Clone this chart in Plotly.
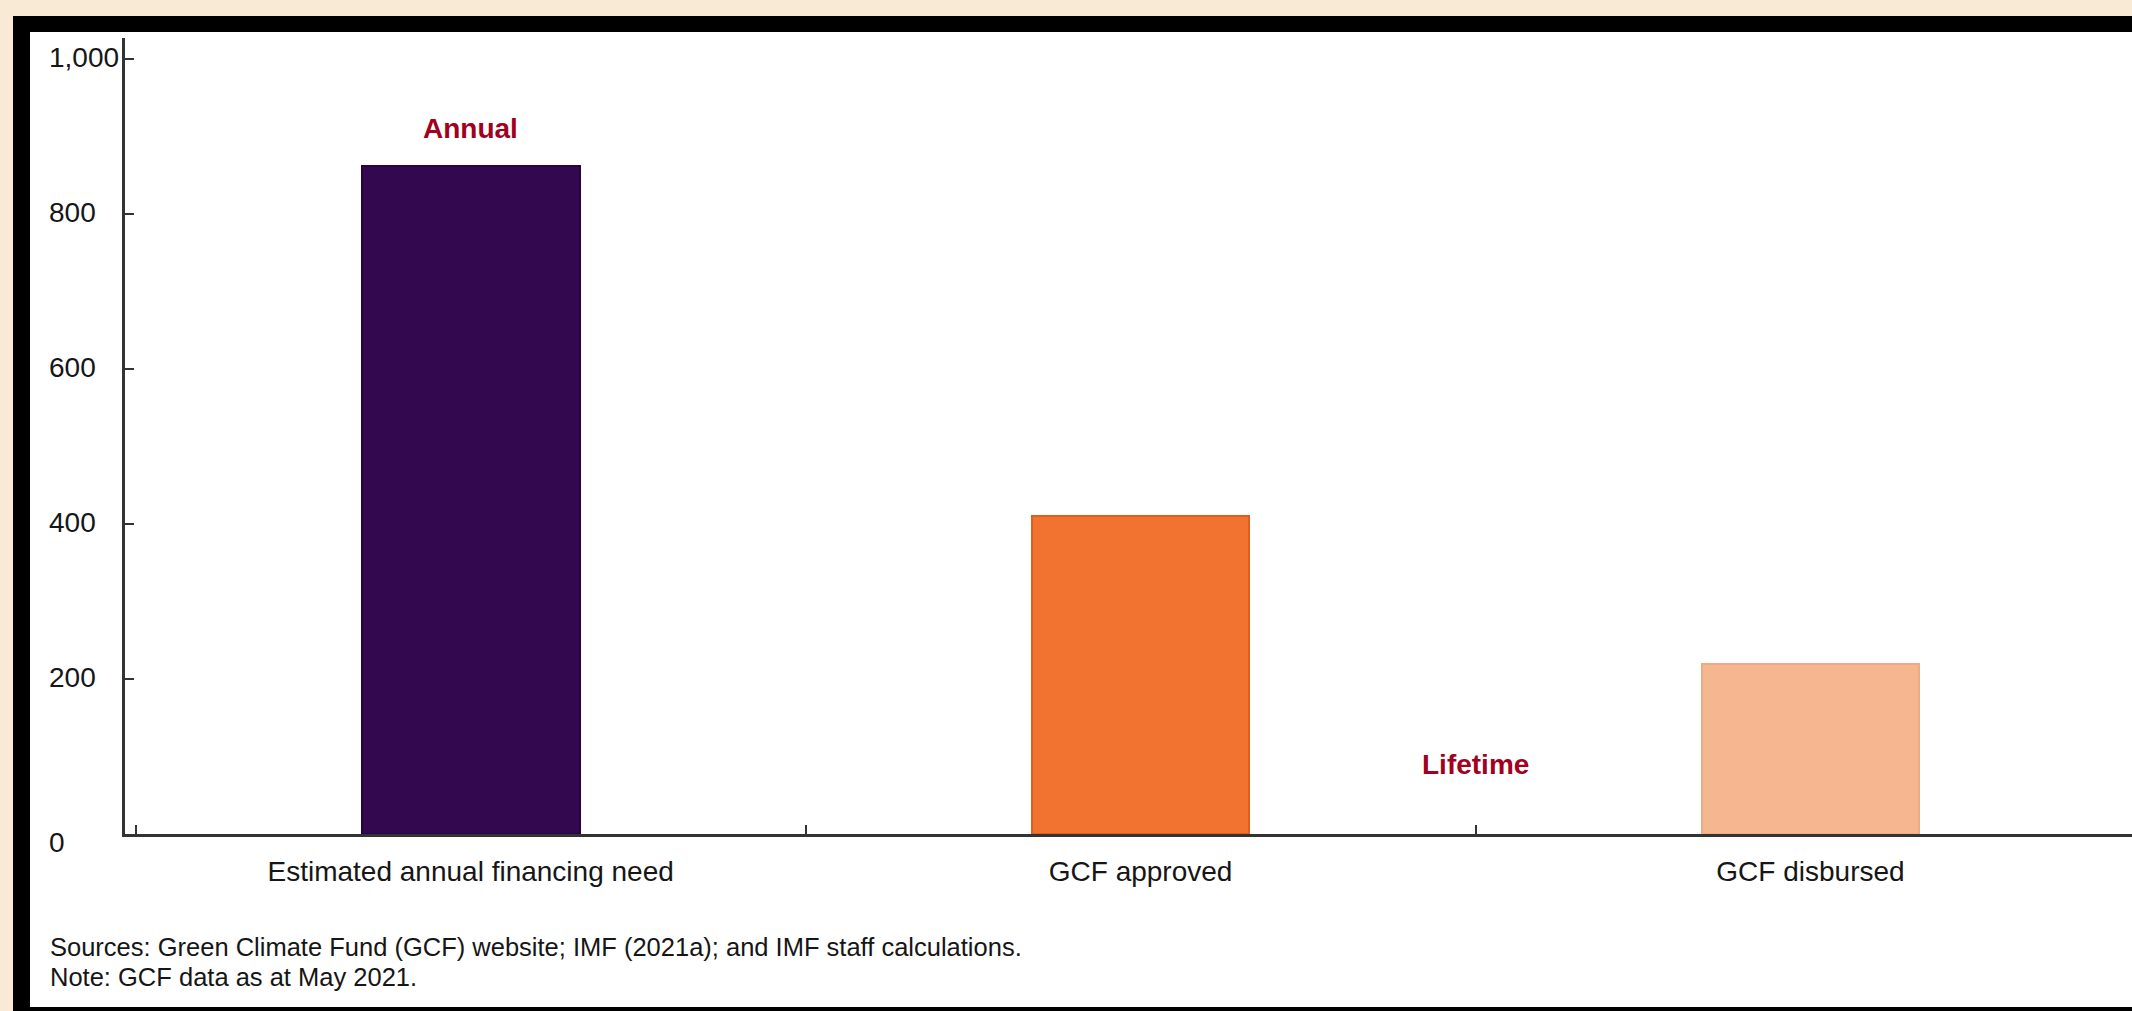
import plotly.graph_objects as go

# ---- data ----
categories = ["Estimated annual financing need", "GCF approved", "GCF disbursed"]
values = [862, 410, 219]
bar_colors = ["#33084F", "#F2722F", "#F5B690"]
bar_edges = ["#27043F", "#DE5E1E", "#EEAA82"]
y_ticks = [0, 200, 400, 600, 800, 1000]
y_tick_labels = ["0", "200", "400", "600", "800", "1,000"]
group_labels = ["Annual", "Lifetime"]
group_label_pos = [(0, 910), (1.5, 90)]   # (x category position, y value)
notes = [
    "Sources: Green Climate Fund (GCF) website; IMF (2021a); and IMF staff calculations.",
    "Note: GCF data as at May 2021.",
]

W, H = 2132, 1011
L, R, T, B = 125, 0, 38, 177
PW, PH = W - L - R, H - T - B


def px(p):
    return (p - L) / PW


def py(q):
    return (H - B - q) / PH


FONT = "Liberation Sans, Arial, Helvetica, sans-serif"
RED = "#A3001E"
TXT = "#161616"

fig = go.Figure()
fig.add_trace(go.Bar(
    x=categories, y=values, width=0.325,
    marker=dict(color=bar_colors, line=dict(color=bar_edges, width=2)),
    hoverinfo="skip", showlegend=False,
))

shapes = [
    dict(type="rect", xref="paper", yref="paper", layer="below",
         x0=px(13), x1=px(W + 20), y0=py(H + 20), y1=py(16),
         fillcolor="#000000", line=dict(width=0)),
    dict(type="rect", xref="paper", yref="paper", layer="below",
         x0=px(30), x1=px(W + 20), y0=py(1007), y1=py(32),
         fillcolor="#FFFFFF", line=dict(width=0)),
]

annotations = []
for v, t in zip(y_ticks, y_tick_labels):
    annotations.append(dict(
        x=px(47), xref="paper", y=v, yref="y", text=t, showarrow=False,
        xanchor="left", yanchor="middle", yshift=(-8 if v == 0 else 1),
        font=dict(family=FONT, size=28, color=TXT)))

for (xc, yv), t in zip(group_label_pos, group_labels):
    annotations.append(dict(
        x=xc, xref="x", y=yv, yref="y", text="<b>" + t + "</b>", showarrow=False,
        xanchor="center", yanchor="middle",
        font=dict(family=FONT, size=28, color=RED)))

for i, t in enumerate(notes):
    annotations.append(dict(
        x=px(48), xref="paper", y=py(947 + 30 * i), yref="paper", text=t,
        showarrow=False, xanchor="left", yanchor="middle",
        font=dict(family=FONT, size=25.5, color=TXT)))

fig.update_layout(
    width=W, height=H,
    margin=dict(l=L, r=R, t=T, b=B, pad=0),
    paper_bgcolor="#F9EAD6", plot_bgcolor="#FFFFFF",
    shapes=shapes, annotations=annotations,
    bargap=0,
    xaxis=dict(
        type="category", range=[-0.516, 2.48], showgrid=False, zeroline=False,
        showline=True, linecolor="#333333", linewidth=3,
        ticks="inside", tickson="boundaries", ticklen=9, tickwidth=2, tickcolor="#333333",
        tickfont=dict(family=FONT, size=28, color=TXT), ticklabelstandoff=10,
        fixedrange=True,
    ),
    yaxis=dict(
        range=[0, 1027], showgrid=False, zeroline=False,
        showline=True, linecolor="#333333", linewidth=3,
        ticks="inside", tickvals=y_ticks, ticklen=9, tickwidth=2, tickcolor="#333333",
        showticklabels=False, fixedrange=True,
    ),
)

fig.write_html("out.html", config={"displayModeBar": False})
